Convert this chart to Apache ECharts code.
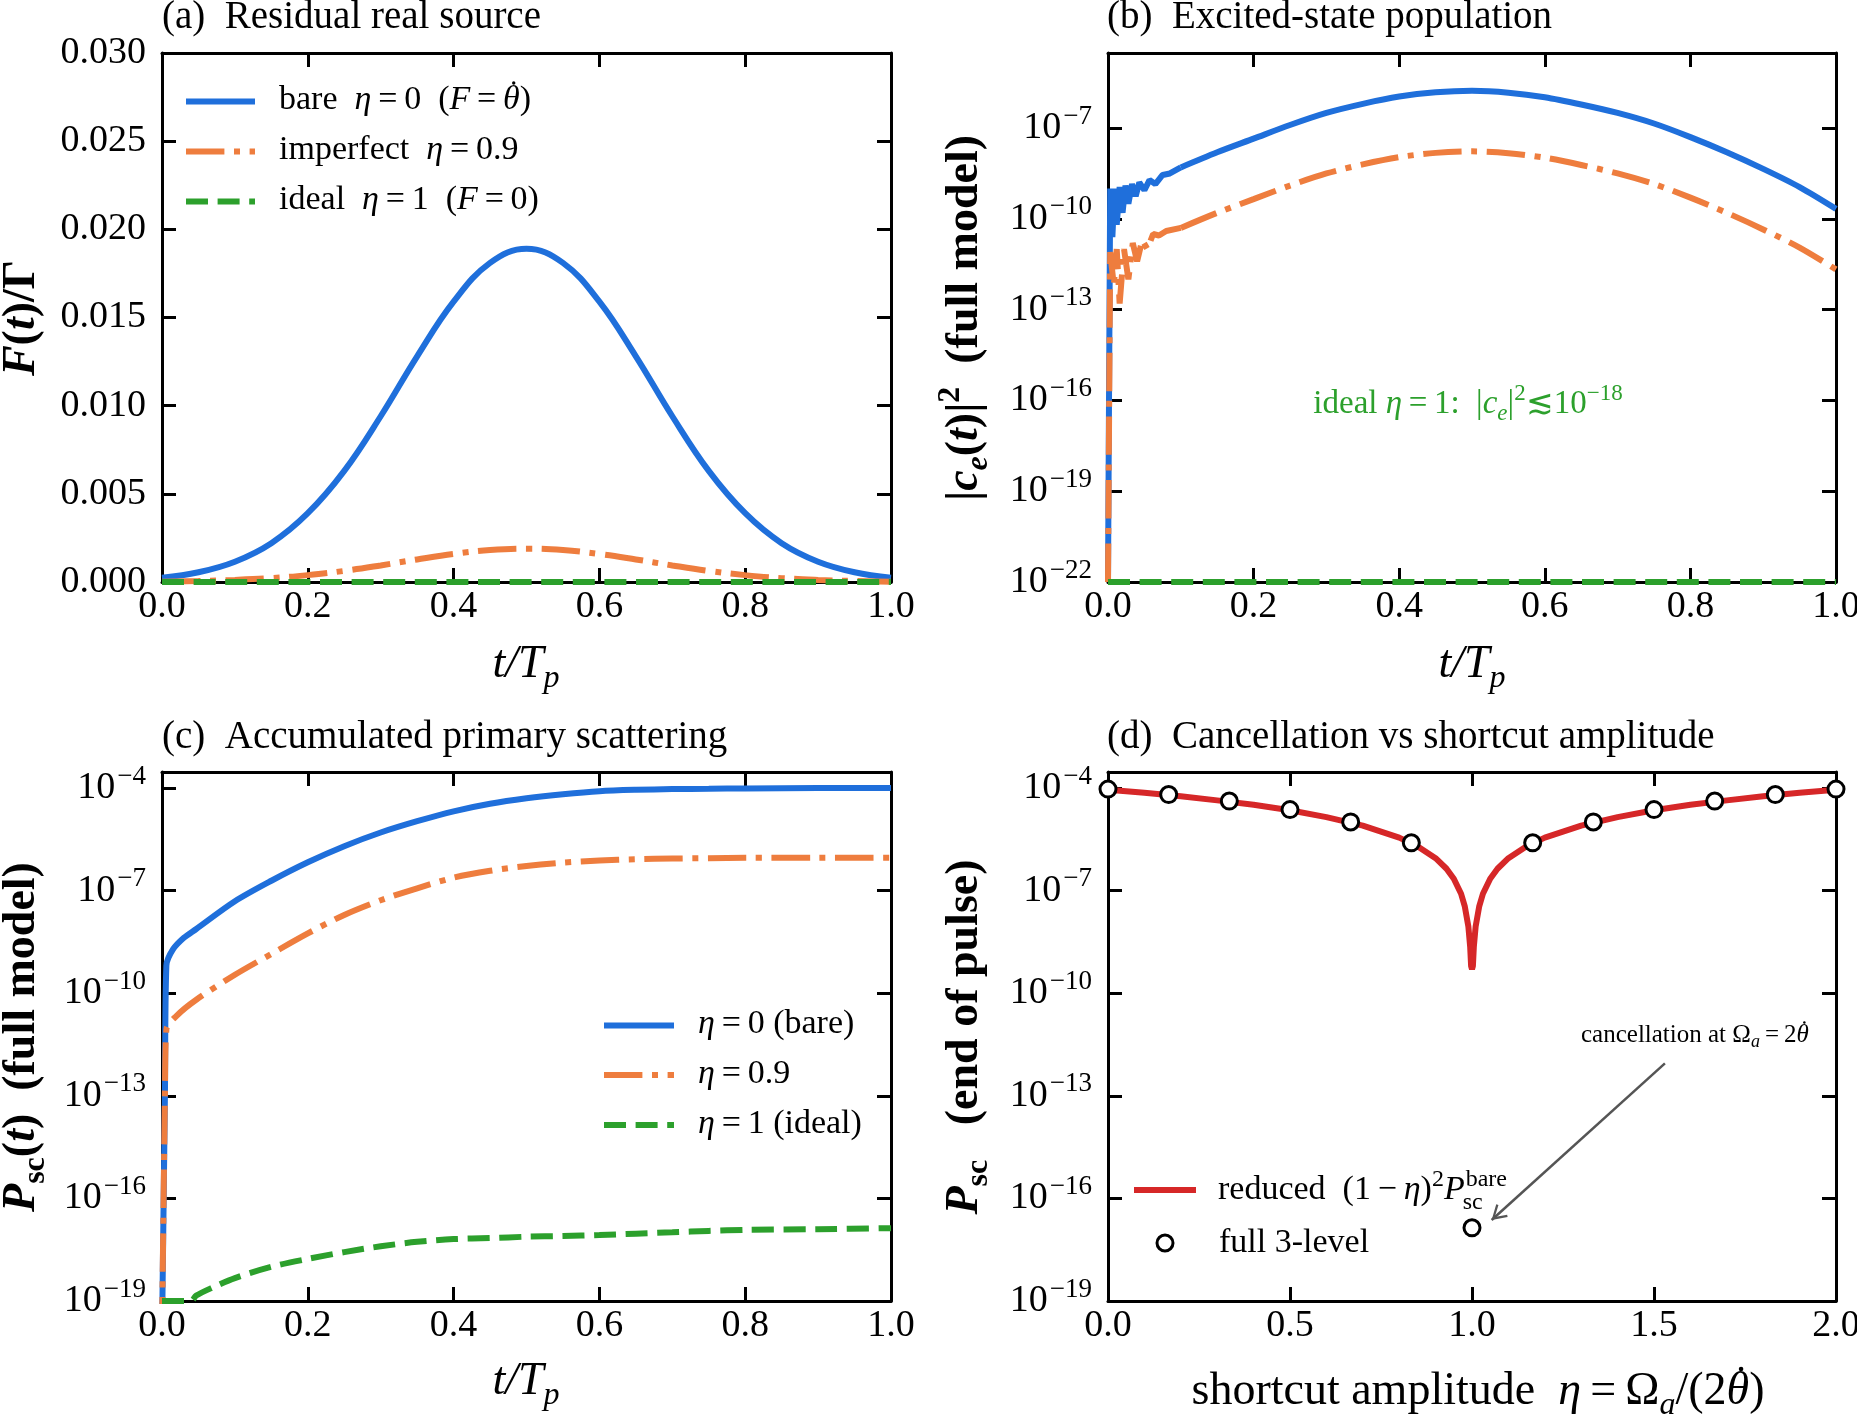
<!DOCTYPE html>
<html>
<head>
<meta charset="utf-8">
<script src="https://cdn.jsdelivr.net/npm/echarts@6/dist/echarts.min.js"></script>
<style>
  html, body { margin: 0; padding: 0; background: #fff; }
  #chart { width: 1857px; height: 1417px; }
</style>
</head>
<body>
<div id="chart"></div>
<script>
const FONT = "'Liberation Serif', 'DejaVu Serif', serif";
const BLUE = '#1f6fdb';
const ORANGE = '#ee7d3e';
const GREEN = '#2ca02c';
const RED = '#d62728';

// (a) residual real source F(t)/Gamma
const tA = [0, 0.05, 0.10, 0.15, 0.20, 0.25, 0.30, 0.35, 0.40, 0.45, 0.50,
  0.55, 0.60, 0.65, 0.70, 0.75, 0.80, 0.85, 0.90, 0.95, 1.00];
const fBare = [0.00024, 0.00055, 0.00115, 0.0022, 0.0039, 0.0063, 0.0094, 0.0128, 0.0159, 0.0181, 0.0189,
  0.0181, 0.0159, 0.0128, 0.0094, 0.0063, 0.0039, 0.0022, 0.00115, 0.00055, 0.00024];
const fImperfect = [0.00002, 0.00006, 0.00012, 0.00022, 0.00039, 0.00063, 0.00094, 0.00128, 0.00159, 0.00181, 0.00189,
  0.00181, 0.00159, 0.00128, 0.00094, 0.00063, 0.00039, 0.00022, 0.00012, 0.00006, 0.00002];
const fIdeal = [0, 0, 0, 0, 0, 0, 0, 0, 0, 0, 0, 0, 0, 0, 0, 0, 0, 0, 0, 0, 0];

// (b) excited-state population, log10 |c_e|^2 (early ringing part, then smooth envelope)
const tBBareRing = [0, 0.003, 0.006, 0.009, 0.012, 0.016, 0.020, 0.024, 0.028, 0.033, 0.038, 0.043, 0.050, 0.057, 0.065, 0.075, 0.085, 0.10];
const logBBareRing = [-22, -9.0, -10.6, -9.0, -10.2, -8.95, -9.8, -8.9, -9.5, -8.85, -9.25, -8.8, -9.05, -8.72, -8.85, -8.55, -8.5, -8.3];
const tBBare = [0.10, 0.15, 0.20, 0.25, 0.30, 0.35, 0.40, 0.45, 0.50, 0.55, 0.60, 0.65, 0.70, 0.75, 0.80, 0.85, 0.90, 0.95, 1.00];
const logBBare = [-8.3, -7.8, -7.35, -6.9, -6.5, -6.2, -5.96, -5.82, -5.77, -5.83, -5.98, -6.22, -6.5, -6.85, -7.3, -7.8, -8.35, -8.95, -9.67];
const tBImpRing = [0, 0.003, 0.008, 0.012, 0.016, 0.022, 0.028, 0.034, 0.040, 0.047, 0.054, 0.062, 0.070, 0.080, 0.10];
const logBImpRing = [-22, -11.1, -12.2, -11.0, -12.8, -11.0, -12.0, -10.8, -11.4, -10.7, -11.0, -10.5, -10.55, -10.4, -10.3];
const tBImp = [0.10, 0.15, 0.20, 0.25, 0.30, 0.35, 0.40, 0.45, 0.50, 0.55, 0.60, 0.65, 0.70, 0.75, 0.80, 0.85, 0.90, 0.95, 1.00];
const logBImp = [-10.3, -9.8, -9.35, -8.9, -8.5, -8.2, -7.96, -7.82, -7.77, -7.83, -7.98, -8.22, -8.5, -8.85, -9.3, -9.8, -10.35, -10.95, -11.67];
const tBIdeal = [0, 1];
const logBIdeal = [-22, -22];

// (c) accumulated primary scattering, log10 P_sc(t)
const tCBare = [0, 0.004, 0.006, 0.015, 0.03, 0.047, 0.10, 0.15, 0.20, 0.25, 0.30, 0.35, 0.40, 0.45, 0.50, 0.55, 0.60, 0.65, 0.70, 0.75, 0.80, 0.90, 1.00];
const logCBare = [-20, -13, -9.19, -8.72, -8.38, -8.12, -7.31, -6.71, -6.17, -5.70, -5.30, -4.97, -4.68, -4.46, -4.3, -4.18, -4.09, -4.05, -4.03, -4.02, -4.01, -4.0, -4.0];
const tCImp = [0, 0.004, 0.006, 0.02, 0.047, 0.10, 0.15, 0.20, 0.25, 0.30, 0.35, 0.40, 0.45, 0.50, 0.55, 0.60, 0.65, 0.70, 0.75, 0.80, 0.90, 1.00];
const logCImp = [-20, -13, -11.06, -10.66, -10.19, -9.46, -8.85, -8.25, -7.71, -7.28, -6.93, -6.62, -6.42, -6.28, -6.18, -6.12, -6.08, -6.06, -6.05, -6.04, -6.04, -6.04];
const tCIdeal = [0, 0.02, 0.04, 0.047, 0.07, 0.10, 0.15, 0.20, 0.25, 0.30, 0.35, 0.40, 0.45, 0.50, 0.55, 0.60, 0.65, 0.70, 0.75, 0.80, 0.90, 1.00];
const logCIdeal = [-19, -19, -19, -18.84, -18.6, -18.33, -18.0, -17.77, -17.57, -17.40, -17.27, -17.19, -17.16, -17.12, -17.1, -17.07, -17.03, -16.99, -16.95, -16.92, -16.90, -16.87];

// (d) end-of-pulse scattering vs shortcut amplitude eta, log10 P_sc
const etaRed = [0, 0.1, 0.2, 0.3, 0.4, 0.5, 0.6, 0.7, 0.8, 0.85, 0.9, 0.93, 0.95, 0.97, 0.98, 0.99, 0.995, 0.9975, 1.0,
  1.0025, 1.005, 1.01, 1.02, 1.03, 1.05, 1.07, 1.1, 1.15, 1.2, 1.3, 1.4, 1.5, 1.6, 1.7, 1.8, 1.9, 2.0];
const logRed = [-4.05, -4.14, -4.24, -4.36, -4.49, -4.65, -4.85, -5.10, -5.45, -5.70, -6.05, -6.36, -6.65, -7.09, -7.45, -8.05, -8.65, -9.2, -9.3,
  -9.2, -8.65, -8.05, -7.45, -7.09, -6.65, -6.36, -6.05, -5.70, -5.45, -5.10, -4.85, -4.65, -4.49, -4.36, -4.24, -4.14, -4.05];
const etaPts = [0, 0.1667, 0.3333, 0.5, 0.6667, 0.8333, 1.0, 1.1667, 1.3333, 1.5, 1.6667, 1.8333, 2.0];
const logPts = [-4.03, -4.19, -4.38, -4.63, -4.99, -5.60, -16.86, -5.60, -4.99, -4.63, -4.38, -4.19, -4.03];
const arrowFrom = [1.53, -12.05];
const arrowTo = [1.054, -16.63];

// axis ranges: [min, max, step]
const xTicksT = [0, 1, 0.2];
const xTicksEta = [0, 2, 0.5];
const yTicksA = [0, 0.03, 0.005];
const yDecB = [-22, -4.52, 3];
const yDecCD = [-19, -3.53, 3];

const pairs = (xs, ys) => xs.map((x, i) => [x, ys[i]]);

function makeRich(size, weight, color) {
  const lh = Math.round(size * 1.3);
  const s = Math.round(size * 0.7);
  const base = { fontFamily: FONT, fontWeight: weight };
  if (color) base.fill = color;
  return {
    r: Object.assign({}, base, { fontSize: size, lineHeight: lh }),
    i: Object.assign({}, base, { fontSize: size, lineHeight: lh, fontStyle: 'italic' }),
    sup: Object.assign({}, base, { fontSize: s, verticalAlign: 'top' }),
    sub: Object.assign({}, base, { fontSize: s, verticalAlign: 'bottom' }),
    subi: Object.assign({}, base, { fontSize: s, verticalAlign: 'bottom', fontStyle: 'italic' })
  };
}

// canvas measuring, same fonts as the rich tokens
const ctx = document.createElement('canvas').getContext('2d');
function segWidth(style, text, size, weight) {
  const small = style === 'sup' || style === 'sub' || style === 'subi';
  const fs = small ? Math.round(size * 0.7) : size;
  const it = style === 'i' || style === 'subi' || style === 'th';
  ctx.font = (it ? 'italic ' : 'normal ') + (weight || 'normal') + ' ' + fs + 'px ' + FONT;
  return ctx.measureText(text).width;
}

// segs: [[style, text], ...]; style 'th' is an italic theta that gets a dot on top
function mathText(x, y, segs, size, opt) {
  opt = opt || {};
  const weight = opt.weight || 'normal';
  const text = segs.map(s => '{' + (s[0] === 'th' ? 'i' : s[0]) + '|' + s[1] + '}').join('');
  const out = [{
    type: 'text', x: x, y: y, rotation: opt.rot || 0, z: 100, silent: true,
    style: {
      text: text, rich: makeRich(size, weight, opt.color), fontSize: size, fontFamily: FONT,
      fontWeight: weight, fill: opt.color || '#000',
      align: opt.align || 'left', verticalAlign: 'middle'
    }
  }];
  const widths = segs.map(s => segWidth(s[0], s[1], size, weight));
  const total = widths.reduce((a, b) => a + b, 0);
  let cx = opt.align === 'center' ? x - total / 2 : x;
  segs.forEach((s, k) => {
    if (s[0] === 'th') {
      out.push({
        type: 'circle', z: 100, silent: true,
        shape: { cx: cx + widths[k] * 0.64, cy: y - size * 0.5, r: size * 0.05 },
        style: { fill: opt.color || '#000' }
      });
    }
    cx += widths[k];
  });
  return out;
}
const plain = (x, y, s, size) => mathText(x, y, [['r', s]], size);

function sample(x1, x2, y, color, dash) {
  return {
    type: 'line', z: 100, silent: true,
    shape: { x1: x1, y1: y, x2: x2, y2: y },
    style: { stroke: color, lineWidth: 6, lineDash: dash || null }
  };
}

const DASH = [22, 9.6];
const DASHDOT = [38.4, 9.6, 6, 9.6];
const S = '\u2009';             // thin space around relations
const EQ = S + '=' + S;
const ETA = '\u03b7';
const TH = '\u03b8';

const grids = [
  { left: 162, top: 53, width: 729, height: 529 },
  { left: 1108, top: 53, width: 728, height: 529 },
  { left: 162, top: 772, width: 729, height: 529 },
  { left: 1108, top: 772, width: 728, height: 529 }
].map(g => Object.assign(g, { containLabel: false, outerBoundsMode: 'none' }));

const frame = { show: true, onZero: false, lineStyle: { color: '#000', width: 3 } };
const ticks = { show: true, inside: true, length: 14, lineStyle: { color: '#000', width: 3 } };

function decadeLabel(v) {
  const r = Math.round(v);
  if (Math.abs(v - r) > 1e-6) return '';
  return '{b|10}{sup|' + (r < 0 ? '\u2212' + (-r) : r) + '}';
}
const decadeRich = {
  b: { fontSize: 38, fontFamily: FONT, lineHeight: 50, color: '#000' },
  sup: { fontSize: 27, fontFamily: FONT, verticalAlign: 'top', color: '#000', padding: [0, 0, 0, 2] }
};

function xAxisFor(gi, t, pos) {
  return {
    type: 'value', gridIndex: gi, position: pos, min: t[0], max: t[1], interval: t[2],
    axisLine: frame, axisTick: ticks, splitLine: { show: false },
    axisLabel: pos === 'bottom' ? {
      show: true, fontSize: 38, fontFamily: FONT, color: '#000', margin: 6,
      formatter: v => v.toFixed(1)
    } : { show: false }
  };
}
function yLinear(gi, pos) {
  return {
    type: 'value', gridIndex: gi, position: pos, min: yTicksA[0], max: yTicksA[1], interval: yTicksA[2],
    axisLine: frame, axisTick: ticks, splitLine: { show: false },
    axisLabel: pos === 'left' ? {
      show: true, fontSize: 38, fontFamily: FONT, color: '#000', margin: 16,
      formatter: v => v.toFixed(3)
    } : { show: false }
  };
}
// decade axis: data are log10 values, labels read 10^n
function yDecade(gi, pos, t) {
  return {
    type: 'value', gridIndex: gi, position: pos, min: t[0], max: t[1], interval: t[2],
    axisLine: frame, axisTick: ticks, splitLine: { show: false },
    axisLabel: pos === 'left' ? {
      show: true, fontSize: 38, fontFamily: FONT, color: '#000', margin: 16, lineHeight: 50,
      formatter: decadeLabel, rich: decadeRich, showMaxLabel: false
    } : { show: false }
  };
}

function line(ai, data, color, dash, extra) {
  return Object.assign({
    type: 'line', xAxisIndex: ai, yAxisIndex: ai, data: data, symbol: 'none', showSymbol: false,
    lineStyle: { color: color, width: 6, type: dash || 'solid', cap: 'butt' },
    clip: true, animation: false, silent: true
  }, extra || {});
}
const SMOOTH = { smooth: 0.3 };

const chevron = 'path://M5,0 L10,8.5 L8.8,9.2 L5,2.6 L1.2,9.2 L0,8.5 Z';

const option = {
  backgroundColor: '#fff',
  animation: false,
  grid: grids,
  xAxis: [
    xAxisFor(0, xTicksT, 'bottom'), xAxisFor(1, xTicksT, 'bottom'),
    xAxisFor(2, xTicksT, 'bottom'), xAxisFor(3, xTicksEta, 'bottom'),
    xAxisFor(0, xTicksT, 'top'), xAxisFor(1, xTicksT, 'top'),
    xAxisFor(2, xTicksT, 'top'), xAxisFor(3, xTicksEta, 'top')
  ],
  yAxis: [
    yLinear(0, 'left'), yDecade(1, 'left', yDecB), yDecade(2, 'left', yDecCD), yDecade(3, 'left', yDecCD),
    yLinear(0, 'right'), yDecade(1, 'right', yDecB), yDecade(2, 'right', yDecCD), yDecade(3, 'right', yDecCD)
  ],
  series: [
    line(0, pairs(tA, fBare), BLUE, 'solid', { smooth: 0.4 }),
    line(0, pairs(tA, fImperfect), ORANGE, DASHDOT, { smooth: 0.4 }),
    line(0, pairs(tA, fIdeal), GREEN, DASH),

    line(1, pairs(tBBareRing, logBBareRing), BLUE, 'solid'),
    line(1, pairs(tBBare, logBBare), BLUE, 'solid', SMOOTH),
    line(1, pairs(tBImpRing, logBImpRing), ORANGE, DASHDOT),
    line(1, pairs(tBImp, logBImp), ORANGE, DASHDOT, SMOOTH),
    line(1, pairs(tBIdeal, logBIdeal), GREEN, DASH),

    line(2, pairs(tCBare, logCBare), BLUE, 'solid', SMOOTH),
    line(2, pairs(tCImp, logCImp), ORANGE, DASHDOT, SMOOTH),
    line(2, pairs(tCIdeal, logCIdeal), GREEN, DASH, SMOOTH),

    line(3, pairs(etaRed, logRed), RED, 'solid'),
    {
      type: 'scatter', xAxisIndex: 3, yAxisIndex: 3, data: pairs(etaPts, logPts),
      symbol: 'circle', symbolSize: 16, clip: false, silent: true, z: 5,
      itemStyle: { color: '#fff', borderColor: '#000', borderWidth: 3, opacity: 1 },
      markLine: {
        silent: true, animation: false,
        symbol: ['none', chevron], symbolSize: [17, 15], symbolOffset: [0, [0, 7.5]],
        label: { show: false },
        lineStyle: { color: '#555', width: 2.5, type: 'solid' },
        data: [[{ coord: arrowFrom }, { coord: arrowTo }]]
      }
    }
  ],
  graphic: { elements: [] }
};

const G = option.graphic.elements;
const add = els => els.forEach(e => G.push(e));

// panel titles
add(plain(162, 18, '(a)  Residual real source', 39));
add(plain(1107, 18, '(b)  Excited-state population', 39));
add(plain(162, 738, '(c)  Accumulated primary scattering', 39));
add(plain(1107, 738, '(d)  Cancellation vs shortcut amplitude', 39));

// axis titles
const tTp = [['i', 't/T'], ['subi', 'p']];
add(mathText(526, 665, tTp, 46, { align: 'center' }));
add(mathText(1472, 665, tTp, 46, { align: 'center' }));
add(mathText(526, 1382, tTp, 46, { align: 'center' }));
add(mathText(1478, 1392, [['r', 'shortcut amplitude  '], ['i', ETA], ['r', EQ + '\u03a9'], ['subi', 'a'], ['r', '/(2'], ['th', TH], ['r', ')']], 46, { align: 'center' }));
const vb = { align: 'center', rot: Math.PI / 2, weight: 'bold' };
add(mathText(22, 318, [['i', 'F'], ['r', '('], ['i', 't'], ['r', ')/\u0393']], 46, vb));
add(mathText(965, 318, [['r', '|'], ['i', 'c'], ['subi', 'e'], ['r', '('], ['i', 't'], ['r', ')|'], ['sup', '2'], ['r', '  (full model)']], 46, vb));
add(mathText(22, 1037, [['i', 'P'], ['sub', 'sc'], ['r', '('], ['i', 't'], ['r', ')  (full model)']], 46, vb));
add(mathText(965, 1037, [['i', 'P'], ['sub', 'sc'], ['r', '   (end of pulse)']], 46, vb));

// legend (a)
G.push(sample(186, 255, 101.5, BLUE));
G.push(sample(186, 255, 151.5, ORANGE, DASHDOT));
G.push(sample(186, 255, 201.5, GREEN, DASH));
add(mathText(279, 100, [['r', 'bare  '], ['i', ETA], ['r', EQ + '0  ('], ['i', 'F'], ['r', EQ], ['th', TH], ['r', ')']], 34));
add(mathText(279, 150, [['r', 'imperfect  '], ['i', ETA], ['r', EQ + '0.9']], 34));
add(mathText(279, 200, [['r', 'ideal  '], ['i', ETA], ['r', EQ + '1  ('], ['i', 'F'], ['r', EQ + '0)']], 34));

// legend (c)
G.push(sample(604, 674, 1025.5, BLUE));
G.push(sample(604, 674, 1075, ORANGE, DASHDOT));
G.push(sample(604, 674, 1125, GREEN, DASH));
add(mathText(698, 1024, [['i', ETA], ['r', EQ + '0 (bare)']], 34));
add(mathText(698, 1074, [['i', ETA], ['r', EQ + '0.9']], 34));
add(mathText(698, 1124, [['i', ETA], ['r', EQ + '1 (ideal)']], 34));

// legend (d)
G.push(sample(1134, 1196, 1190, RED));
G.push({
  type: 'circle', z: 100, silent: true,
  shape: { cx: 1165, cy: 1243, r: 8 },
  style: { fill: '#fff', stroke: '#000', lineWidth: 3 }
});
const redSegs = [['r', 'reduced  (1' + S + '\u2212' + S], ['i', ETA], ['r', ')'], ['sup', '2'], ['i', 'P']];
const redW = redSegs.reduce((a, s) => a + segWidth(s[0], s[1], 34), 0);
add(mathText(1218, 1190, redSegs, 34));
add(plain(1218 + redW + 1, 1180, 'bare', 24));
add(plain(1218 + redW - 2, 1203, 'sc', 24));
add(plain(1219, 1243, 'full 3-level', 34));

// annotations
add(mathText(1468, 404, [['r', 'ideal '], ['i', ETA], ['r', EQ + '1:  |'], ['i', 'c'], ['subi', 'e'], ['r', '|'], ['sup', '2'], ['r', '\u227210'], ['sup', '\u221218']], 33, { align: 'center', color: GREEN }));
add(mathText(1581, 1035, [['r', 'cancellation at \u03a9'], ['subi', 'a'], ['r', EQ + '2'], ['th', TH]], 25));

const chart = echarts.init(document.getElementById('chart'));
chart.setOption(option);
</script>
</body>
</html>
